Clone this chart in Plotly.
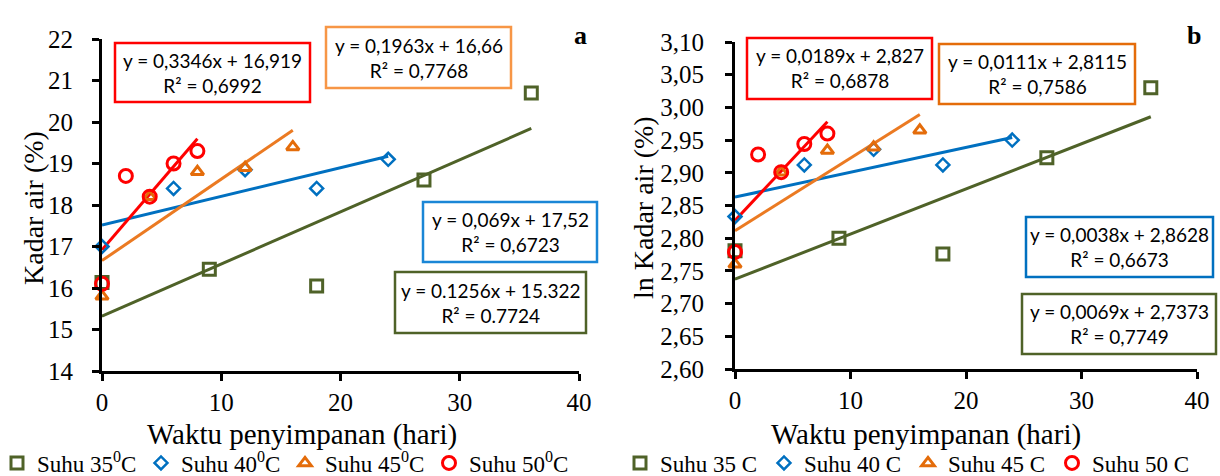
import plotly.graph_objects as go

W, H = 1220, 476

# ---------------- data ----------------
series_names_a = ["Suhu 35<sup>0</sup>C", "Suhu 40<sup>0</sup>C", "Suhu 45<sup>0</sup>C", "Suhu 50<sup>0</sup>C"]
series_names_b = ["Suhu 35 C", "Suhu 40 C", "Suhu 45 C", "Suhu 50 C"]

x35 = [0, 9, 18, 27, 36]
x40 = [0, 6, 12, 18, 24]
x45 = [0, 4, 8, 12, 16]
x50 = [0, 2, 4, 6, 8]

# panel a: Kadar air (%)
ka35 = [16.13, 16.45, 16.05, 18.6, 20.7]
ka40 = [17.0, 18.4, 18.85, 18.4, 19.1]
ka45 = [15.8, 18.2, 18.8, 18.9, 19.4]
ka50 = [16.1, 18.7, 18.2, 19.0, 19.3]

# panel b: ln Kadar air (%)
ln35 = [2.781, 2.800, 2.776, 2.923, 3.030]
ln40 = [2.833, 2.912, 2.936, 2.912, 2.950]
ln45 = [2.760, 2.901, 2.934, 2.939, 2.965]
ln50 = [2.779, 2.928, 2.901, 2.944, 2.960]

# trend line coefficients (as printed on the chart)
slope_a = [0.1256, 0.069, 0.1963, 0.3346]
icept_a = [15.322, 17.52, 16.66, 16.919]
slope_b = [0.0069, 0.0038, 0.0111, 0.0189]
icept_b = [2.7373, 2.8628, 2.8115, 2.827]

eq_a = ["y = 0.1256x + 15.322<br>R² = 0.7724",
        "y = 0,069x + 17,52<br>R² = 0,6723",
        "y = 0,1963x + 16,66<br>R² = 0,7768",
        "y = 0,3346x + 16,919<br>R² = 0,6992"]
eq_b = ["y = 0,0069x + 2,7373<br>R² = 0,7749",
        "y = 0,0038x + 2,8628<br>R² = 0,6673",
        "y = 0,0111x + 2,8115<br>R² = 0,7586",
        "y = 0,0189x + 2,827<br>R² = 0,6878"]

x_ticks = [0, 10, 20, 30, 40]
ya_ticks = [14, 15, 16, 17, 18, 19, 20, 21, 22]
yb_ticks = [2.60, 2.65, 2.70, 2.75, 2.80, 2.85, 2.90, 2.95, 3.00, 3.05, 3.10]

x_title = "Waktu penyimpanan (hari)"
ya_title = "Kadar air (%)"
yb_title = "ln Kadar air (%)"

# ---------------- styles ----------------
GREEN = "#4F6228"
BLUE = "#0070C0"
ORANGE = "#E46C0A"
ORANGE_LINE = "#EB7A22"
RED = "#FF0000"
colors = [GREEN, BLUE, ORANGE, RED]
line_colors = [GREEN, BLUE, ORANGE_LINE, RED]
symbols = ["square-open", "diamond-open", "triangle-up-open", "circle-open"]
sizes = [12, 10, 11, 13]
lws = [3, 2.5, 3, 3]
SERIF = "Liberation Serif"
SANS = "Lato"

xs = [x35, x40, x45, x50]
ya = [ka35, ka40, ka45, ka50]
yb = [ln35, ln40, ln45, ln50]

fig = go.Figure()


def px(x):
    return x / W


def py(y):
    return 1 - y / H


# trend lines
for panel, (slopes, icepts) in enumerate([(slope_a, icept_a), (slope_b, icept_b)]):
    xa = "x" if panel == 0 else "x2"
    yax = "y" if panel == 0 else "y2"
    for i in range(4):
        x0, x1 = 0, max(xs[i])
        fig.add_trace(go.Scatter(
            x=[x0, x1], y=[slopes[i] * x0 + icepts[i], slopes[i] * x1 + icepts[i]],
            mode="lines", line=dict(color=line_colors[i], width=3),
            xaxis=xa, yaxis=yax, showlegend=False, hoverinfo="skip", cliponaxis=False))

# markers
for panel, (ys, names) in enumerate([(ya, series_names_a), (yb, series_names_b)]):
    xa = "x" if panel == 0 else "x2"
    yax = "y" if panel == 0 else "y2"
    for i in range(4):
        fig.add_trace(go.Scatter(
            x=xs[i], y=ys[i], mode="markers", name=names[i],
            marker=dict(symbol=symbols[i], size=sizes[i], color=colors[i],
                        line=dict(width=lws[i], color=colors[i])),
            xaxis=xa, yaxis=yax, cliponaxis=False,
            legend="legend" if panel == 0 else "legend2"))

axis_common = dict(showline=True, linecolor="black", linewidth=3, ticks="outside",
                   tickcolor="black", tickwidth=2.5, ticklen=7, showgrid=False,
                   zeroline=False, automargin=False,
                   tickfont=dict(family=SERIF, size=25, color="black"))

legend_common = dict(orientation="h", xanchor="left", yanchor="middle",
                     font=dict(family=SERIF, size=23, color="black"),
                     bgcolor="rgba(0,0,0,0)", itemwidth=30, tracegroupgap=0,
                     entrywidth=99, entrywidthmode="pixels")

fig.update_layout(
    template="none",
    width=W, height=H, margin=dict(l=0, r=0, t=0, b=0, autoexpand=False),
    paper_bgcolor="white", plot_bgcolor="white", separators=",.",
    xaxis=dict(domain=[px(102), px(579)], range=[0, 40], tickvals=x_ticks, anchor="y",
               ticklabelstandoff=0, **axis_common),
    yaxis=dict(domain=[py(371), py(39)], range=[14, 22], tickvals=ya_ticks, anchor="x",
               ticklabelstandoff=14, **axis_common),
    xaxis2=dict(domain=[px(735), px(1197)], range=[0, 40], tickvals=x_ticks, anchor="y2",
                ticklabelstandoff=0, **axis_common),
    yaxis2=dict(domain=[py(369), py(42)], range=[2.60, 3.10], tickvals=yb_ticks, tickformat=".2f",
                anchor="x2", ticklabelstandoff=16, **axis_common),
    legend=dict(x=px(-3), y=py(463), **legend_common),
    legend2=dict(x=px(620), y=py(463), **legend_common),
)

# equation boxes (pixel rectangles)
boxes_a = [(395, 272, 586, 333), (423, 202, 597, 262), (326, 27, 511, 88), (115, 43, 310, 102)]
boxes_b = [(1022, 294, 1216, 354), (1026, 217, 1213, 277), (939, 44, 1135, 104), (747, 38, 932, 99)]
box_colors_a = [GREEN, "#1A86D6", "#F79646", RED]
box_colors_b = [GREEN, BLUE, ORANGE, RED]

shapes = []
annotations = []
for boxes, eqs, bcols in [(boxes_a, eq_a, box_colors_a), (boxes_b, eq_b, box_colors_b)]:
    for (x0, y0, x1, y1), txt, c in zip(boxes, eqs, bcols):
        shapes.append(dict(type="rect", xref="paper", yref="paper",
                           x0=px(x0), x1=px(x1), y0=py(y1), y1=py(y0),
                           line=dict(color=c, width=2.5), fillcolor="white", layer="above"))
        annotations.append(dict(xref="paper", yref="paper", x=px((x0 + x1) / 2), y=py((y0 + y1) / 2),
                                text=txt, showarrow=False, xanchor="center", yanchor="middle",
                                font=dict(family=SANS, size=19, color="black")))

# axis titles
title_font = dict(family=SERIF, size=28, color="black")
xtitle_font = dict(family=SERIF, size=29, color="black")
annotations += [
    dict(xref="paper", yref="paper", x=px(302), y=py(434), text=x_title, showarrow=False,
         xanchor="center", yanchor="middle", font=xtitle_font),
    dict(xref="paper", yref="paper", x=px(926), y=py(434), text=x_title, showarrow=False,
         xanchor="center", yanchor="middle", font=xtitle_font),
    dict(xref="paper", yref="paper", x=px(33), y=py(208), text=ya_title, showarrow=False,
         textangle=-90, xanchor="center", yanchor="middle", font=title_font),
    dict(xref="paper", yref="paper", x=px(643), y=py(208), text=yb_title, showarrow=False,
         textangle=-90, xanchor="center", yanchor="middle", font=title_font),
    dict(xref="paper", yref="paper", x=px(580), y=py(19), text="<b>a</b>",
         showarrow=False, font=dict(family=SERIF, size=26, color="black")),
    dict(xref="paper", yref="paper", x=px(1203), y=py(19), text="<b>b</b>",
         showarrow=False, font=dict(family=SERIF, size=26, color="black")),
]

fig.update_layout(shapes=shapes, annotations=annotations)

fig.write_html("out.html", config={"displayModeBar": False},
               post_script="document.body.style.margin='0';document.body.style.overflow='hidden';")
